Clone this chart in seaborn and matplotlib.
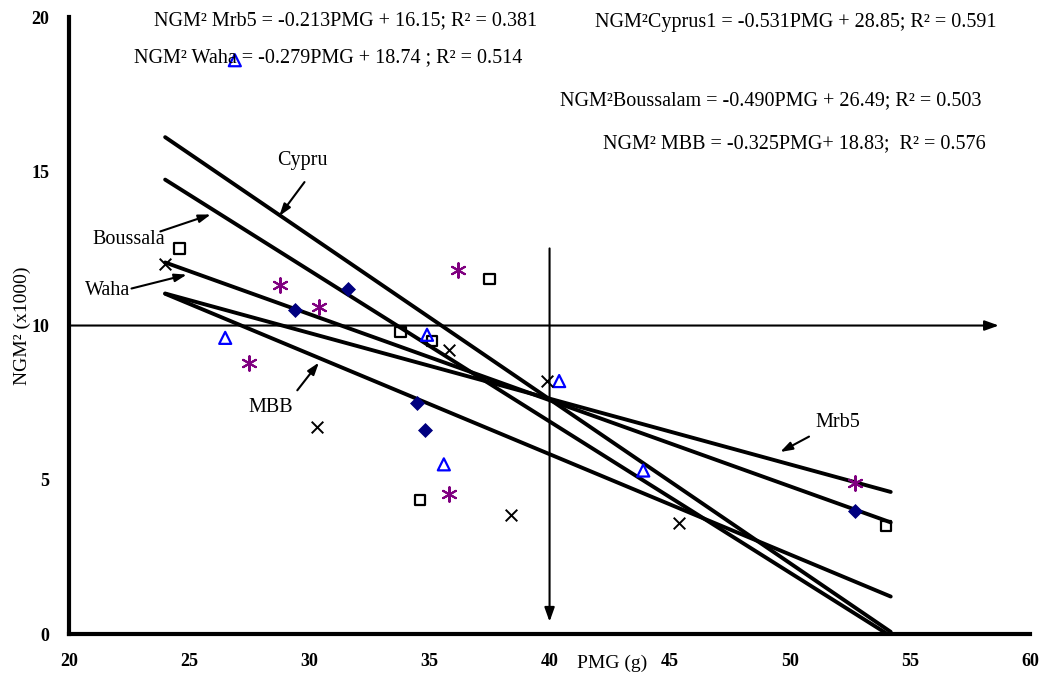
import numpy as np
import pandas as pd
import matplotlib
matplotlib.use("Agg")
import matplotlib.pyplot as plt
import seaborn as sns

# ---- data ----
cyprus_x = [31.6, 29.4, 34.5, 34.8, 52.7]
cyprus_y = [11.2, 10.5, 7.5, 6.6, 4.0]

waha_x = [24.6, 33.8, 35.1, 37.5, 34.6, 54.0]
waha_y = [12.5, 9.8, 9.5, 11.5, 4.35, 3.5]

bouss_x = [26.9, 26.5, 34.9, 35.6, 40.4, 43.9]
bouss_y = [18.6, 9.6, 9.7, 5.5, 8.2, 5.3]

mrb5_x = [36.2, 28.8, 30.4, 27.5, 35.8, 52.7]
mrb5_y = [11.8, 11.3, 10.6, 8.8, 4.55, 4.9]

mbb_x = [24.0, 35.8, 30.3, 38.4, 39.9, 45.4]
mbb_y = [12.0, 9.2, 6.7, 3.85, 8.2, 3.6]

fit_names = ["Cyprus1", "Boussalam", "Waha", "Mrb5", "MBB"]
fit_slopes = [-0.531, -0.490, -0.279, -0.213, -0.325]
fit_intercepts = [28.85, 26.49, 18.74, 16.15, 18.83]
fit_x_range = [24.0, 54.2]

equations = [
    "NGM² Mrb5 = -0.213PMG + 16.15; R² = 0.381",
    "NGM² Waha = -0.279PMG + 18.74 ; R² = 0.514",
    "NGM²Cyprus1 = -0.531PMG + 28.85; R² = 0.591",
    "NGM²Boussalam = -0.490PMG + 26.49; R² = 0.503",
    "NGM² MBB = -0.325PMG+ 18.83;  R² = 0.576",
]
eq_pos = [(31.5, 19.88), (30.8, 18.67), (50.25, 19.83), (49.2, 17.3), (50.2, 15.9)]

line_labels = ["Cypru", "Boussala", "Waha", "MBB", "Mrb5"]
label_pos = [(29.7, 15.35), (22.5, 12.8), (21.6, 11.15), (28.4, 7.33), (52.0, 6.85)]
arrow_tail = [(29.8, 14.65), (23.8, 13.05), (22.6, 11.2), (29.5, 7.9), (50.8, 6.4)]
arrow_head = [(28.75, 13.55), (25.9, 13.6), (24.9, 11.65), (30.4, 8.8), (49.6, 5.9)]

x_ticks = [20, 25, 30, 35, 40, 45, 50, 55, 60]
y_ticks = [0, 5, 10, 15, 20]
threshold_x = 40
threshold_y = 10

# ---- figure ----
sns.set_theme(style="white")
plt.rcParams["font.family"] = ["Liberation Serif", "DejaVu Serif"]

fig = plt.figure(figsize=(10.43, 6.76), dpi=100)
ax = fig.add_axes([0.0662, 0.0621, 0.9214, 0.9127])

# regression lines
xs = np.linspace(fit_x_range[0], fit_x_range[1], 400)
rows = []
for n, a, b in zip(fit_names, fit_slopes, fit_intercepts):
    ys = a * xs + b
    m = ys >= 0
    xx = xs[m]
    yy = ys[m]
    if (~m).any():
        x0 = -b / a
        xx = np.append(xx, x0)
        yy = np.append(yy, 0.0)
    rows.append(pd.DataFrame({"x": xx, "y": yy, "fit": n}))
fits = pd.concat(rows)
sns.lineplot(data=fits, x="x", y="y", units="fit", estimator=None, color="black",
             lw=2.8, ax=ax, legend=False, sort=False, zorder=3,
             solid_capstyle="round")

# points
sns.scatterplot(x=cyprus_x, y=cyprus_y, marker="D", s=50, color="#00007f",
                edgecolor="#00007f", ax=ax, zorder=4)
sns.scatterplot(x=waha_x, y=waha_y, marker="s", s=55, facecolor="none",
                edgecolor="black", linewidth=1.6, ax=ax, zorder=4)
sns.scatterplot(x=bouss_x, y=bouss_y, marker="^", s=75, facecolor="none",
                edgecolor="#0000ff", linewidth=1.6, ax=ax, zorder=4)
sns.scatterplot(x=mrb5_x, y=mrb5_y, marker=(6, 2, 0), s=110, color="#800080",
                edgecolor="#800080", linewidth=1.5, ax=ax, zorder=4)
sns.scatterplot(x=mbb_x, y=mbb_y, marker="x", s=70, color="black",
                linewidth=1.4, ax=ax, zorder=4)

# threshold cross lines with arrows
ax.annotate("", xy=(58.7, threshold_y), xytext=(20, threshold_y),
            arrowprops=dict(arrowstyle="-|>,head_length=0.7,head_width=0.25",
                            lw=1.5, color="black", shrinkA=0, shrinkB=0))
ax.annotate("", xy=(threshold_x, 0.4), xytext=(threshold_x, 12.5),
            arrowprops=dict(arrowstyle="-|>,head_length=0.7,head_width=0.25",
                            lw=1.5, color="black", shrinkA=0, shrinkB=0))

# equations
for t, (ex, ey) in zip(equations, eq_pos):
    ax.text(ex, ey, t, ha="center", va="center", fontsize=14.5, color="black",
            clip_on=False, zorder=5)

# line labels with arrows
for t, (lx, ly), tl, hd in zip(line_labels, label_pos, arrow_tail, arrow_head):
    ax.text(lx, ly, t, ha="center", va="center", fontsize=14.5, color="black")
    ax.annotate("", xy=hd, xytext=tl,
                arrowprops=dict(arrowstyle="-|>,head_length=0.6,head_width=0.2",
                                lw=1.5, color="black", shrinkA=0, shrinkB=0))

ax.set_xlim(20, 60)
ax.set_ylim(0, 20)
ax.set_xticks(x_ticks)
ax.set_yticks(y_ticks)
ax.set_xticklabels([str(v) for v in x_ticks], fontweight="bold", fontsize=13)
ax.set_yticklabels([str(v) for v in y_ticks], fontweight="bold", fontsize=13)
ax.tick_params(axis="x", direction="out", length=6, width=2, pad=8, colors="black")
ax.tick_params(axis="y", direction="out", length=6, width=2, pad=8, colors="black")

for s in ["top", "right"]:
    ax.spines[s].set_visible(False)
for s in ["left", "bottom"]:
    ax.spines[s].set_linewidth(3)
    ax.spines[s].set_color("black")

ax.set_xlabel("PMG (g)", fontsize=14, color="black")
ax.xaxis.set_label_coords(0.565, -0.047)
ax.xaxis.label.set_va("center")
ax.set_ylabel("NGM² (x1000)", fontsize=14, color="black")
ax.yaxis.set_label_coords(-0.049, 0.5)
ax.yaxis.label.set_va("center")
ax.grid(False)

fig.savefig("out.png", dpi=100)
